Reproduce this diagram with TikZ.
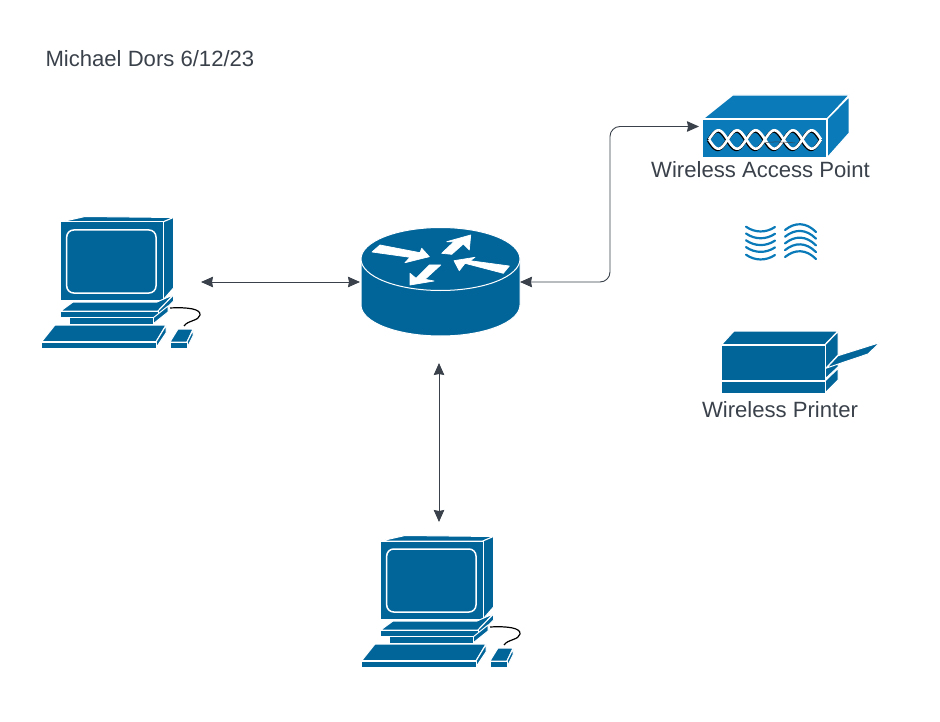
\documentclass[tikz,border=0pt]{standalone}
\usepackage{fontspec}
\setmainfont{Liberation Sans}
\usetikzlibrary{arrows.meta}
\definecolor{netblue}{HTML}{02659A}
\definecolor{apblue}{HTML}{0A7AB8}
\definecolor{inkgray}{HTML}{3A414A}
\tikzset{
  part/.style={fill=netblue,draw=white,line width=1pt,line join=round},
  appart/.style={fill=apblue,draw=white,line width=1.2pt,line join=round},
  arw/.style={fill=white,draw=white,line width=0.7pt,line join=round},
  link/.style={draw=inkgray,line width=0.9pt,{Stealth[length=12pt,width=10.5pt,inset=1pt]}-{Stealth[length=12pt,width=10.5pt,inset=1pt]}},
  device/.style={inner sep=0pt,outer sep=0pt,draw=none},
  caption/.style={inner sep=0pt,outer sep=0pt,text=inkgray,font=\fontsize{22.1}{26}\selectfont},
  wave/.style={draw=apblue,line width=2.2pt,line cap=round},
  pc/.pic={
    % monitor
    \path[part] (60.7,222) -- (85,216.5) -- (173.5,217.5) -- (163,222) -- cycle;
    \path[part] (163,222) -- (173.5,217.5) -- (173.5,288) -- (163,300) -- cycle;
    \path[part] (60.7,222) rectangle (163,300);
    \path[part,line width=1.5pt,rounded corners=7pt] (66.7,230) rectangle (156,293);
    % stand
    \path[part] (73,302) -- (60.7,311) -- (158,311) -- (173.5,295) -- (166,298) -- (157,302) -- cycle;
    \path[part] (158,311) -- (173.5,295) -- (173.5,301) -- (158,317) -- cycle;
    \path[part] (60.7,311) rectangle (158,317);
    \path[part] (153,318) -- (168,306) -- (168,312) -- (153,324) -- cycle;
    \path[part] (69,317.5) rectangle (153,324);
    % keyboard
    \path[part] (55,325) -- (41.7,341.7) -- (156,341.7) -- (166,325) -- cycle;
    \path[part] (156,342) -- (166,325.5) -- (166,333) -- (156,348) -- cycle;
    \path[part] (41.7,342) rectangle (156,348);
    % mouse
    \path[part] (178,329) -- (170,342) -- (187,342) -- (193,329) -- cycle;
    \path[part] (187,342) -- (193,330) -- (193,336) -- (187,348) -- cycle;
    \path[part] (170,342.5) rectangle (187,348);
    \draw[black,line width=1.2pt] (170,308) .. controls (188,307) and (201,309) .. (200,315) .. controls (199,321) and (188,320) .. (184,326);
  },
  routershape/.pic={
    \path[part] (361,259) -- (361,305) arc[start angle=180,end angle=0,x radius=79.5,y radius=31] -- (520,259) -- cycle;
    \path[part] (440.5,259) ellipse[x radius=79.5,y radius=31.5];
    \path[arw] (372,252) -- (380,245) -- (420,252.7) -- (421.7,248.3) -- (429.3,256.7) -- (405,262.7) -- (410,257.3) -- cycle;
    \path[arw] (441.7,253.3) -- (454,241.7) -- (446.7,241.7) -- (470.7,235) -- (469.3,250) -- (463.3,244) -- (451.7,254.3) -- cycle;
    \path[arw] (509.3,266) -- (503.3,273.3) -- (465,263.3) -- (459.3,270.7) -- (454,260.7) -- (475,257.3) -- (470,260.7) -- cycle;
    \path[arw] (410,285) -- (410,273.3) -- (416,278.3) -- (429.3,265) -- (440.7,265) -- (425,279.3) -- (434,281) -- cycle;
  },
  apshape/.pic={
    \path[appart] (702.7,119) -- (732.7,95) -- (849.3,95) -- (827,119) -- cycle;
    \path[appart] (827,119) -- (849.3,96.5) -- (849.3,133) -- (827,158) -- cycle;
    \path[appart] (702.7,119) rectangle (827,158);
    \foreach \sgn in {1,-1} {
      \draw[black,line width=3.2pt] plot[domain=0:112,samples=90,smooth] (708.3+\x,{140.3+\sgn*9.2*sin(9.641*\x)});
    }
    \foreach \sgn in {1,-1} {
      \draw[white,line width=2.6pt] plot[domain=0:112,samples=90,smooth] (709+\x,{139.5+\sgn*9.2*sin(9.641*\x)});
    }
    \draw[inkgray,line width=0.5pt] (766,142.5) .. controls (775,141.5) and (785,142) .. (795,143);
  },
  radiowaves/.pic={
    \foreach \dy in {0,6.8,13.6,20.4,28} {
      \draw[wave] (746,226.7+\dy) .. controls (755,233+\dy) and (766,233+\dy) .. (775,227+\dy);
    }
    \foreach \dy in {0,6.7,13.4,20.1,27} {
      \draw[wave] (785,230+\dy) .. controls (795,222+\dy) and (806,222+\dy) .. (816,232+\dy);
    }
  },
  printershape/.pic={
    \path[part] (721.7,344.5) -- (734,331) -- (838,331) -- (825,344.5) -- cycle;
    \path[part] (825,345) -- (838,331.5) -- (838,355) -- (826.5,367.5) -- (825,368) -- cycle;
    \path[part] (825,369) -- (838,358) -- (838,367) -- (825,379) -- cycle;
    \path[part] (825,381) -- (838,368.5) -- (838,380) -- (825,393) -- cycle;
    \path[part] (721.7,345) rectangle (825,380);
    \path[part] (721.7,381) rectangle (825,393);
    \path[part] (826.5,368) -- (838,355.7) -- (880,342.5) -- (868,354) -- cycle;
  }
}
\begin{document}
\begin{tikzpicture}[x=1pt,y=-1pt]
\useasboundingbox (0,0) rectangle (940,722);

\pic at (0,0) {pc};
\pic at (320,319) {pc};
\pic at (0,0) {routershape};
\pic at (0,0) {apshape};
\pic at (0,0) {radiowaves};
\pic at (0,0) {printershape};

\node[device,minimum width=159pt,minimum height=132pt] (pcleft) at (120.5,282) {};
\node[device,minimum width=159pt,minimum height=108pt] (router) at (440.5,282) {};
\node[device,minimum width=147pt,minimum height=63pt] (ap) at (775.5,126.5) {};

\node[caption,anchor=west] (credit) at (45.5,59) {Michael Dors 6/12/23};
\node[caption] (aplabel) at (760.5,169.5) {Wireless Access Point};
\node[caption] (printerlabel) at (780,410) {Wireless Printer};

\coordinate (routerfoot) at (439,363);
\coordinate (pctop) at (439,522);
\coordinate (bend) at (610,200);

\draw[link,shorten <=1pt,shorten >=1pt] (pcleft.east) -- (router.west);
\draw[link,rounded corners=10pt,shorten >=3pt] (router.east) -| (bend) |- (ap.west);
\draw[link] (routerfoot) -- (pctop);

\end{tikzpicture}
\end{document}
